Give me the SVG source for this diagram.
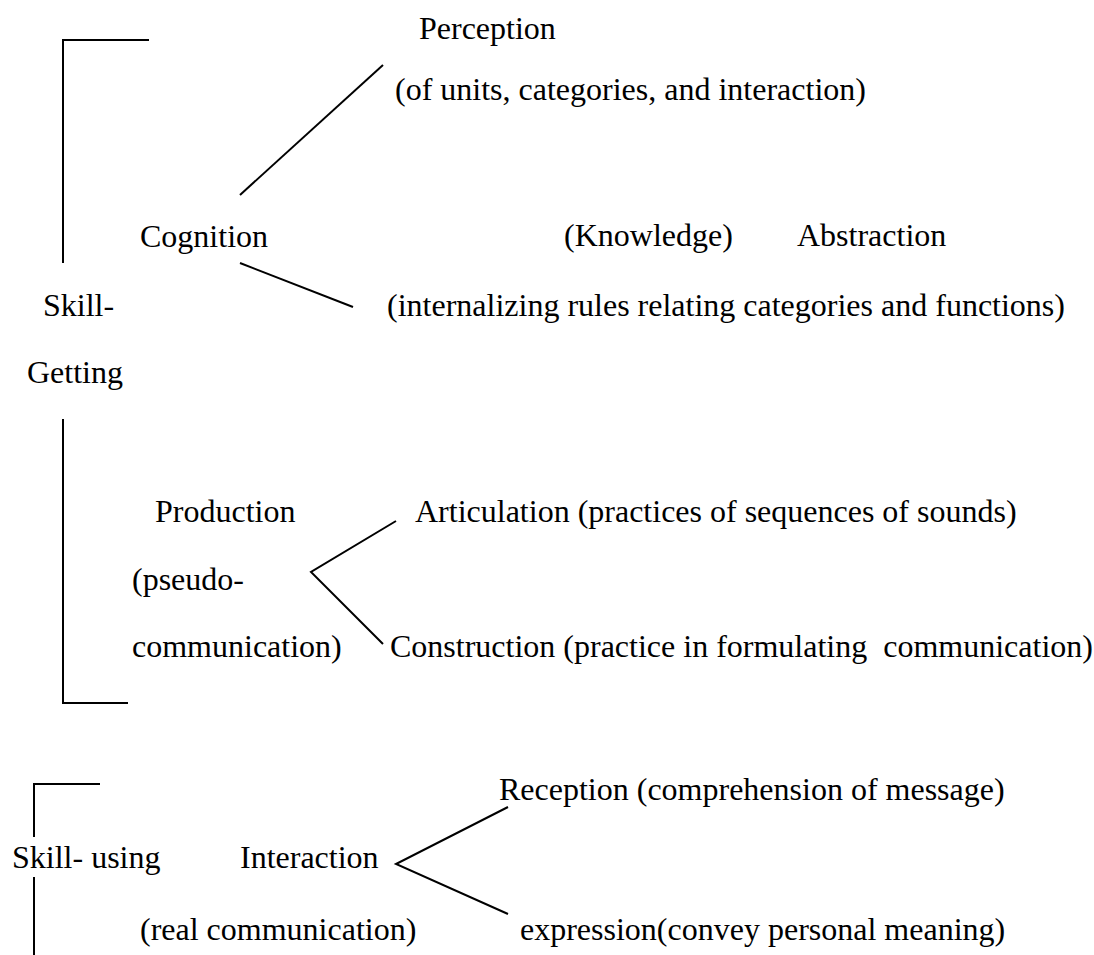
<svg xmlns="http://www.w3.org/2000/svg" width="1094" height="955" viewBox="0 0 1094 955">
  <style>
    text { font-family: "Liberation Serif", "Times New Roman", serif; font-size: 32px; fill: #000; white-space: pre; }
    .ln { fill: none; stroke: #000; stroke-width: 2; }
  </style>
  <rect width="1094" height="955" fill="#fff"/>

  <!-- connectors: brackets and branch lines -->
  <g id="connectors">
    <path class="ln" d="M149,40 H63 V263"/>
    <path class="ln" d="M240,195 L383,65"/>
    <path class="ln" d="M240,263 L353,307"/>
    <path class="ln" d="M63,419 V703 H128"/>
    <path class="ln" d="M396,521 L311,572 L383,644"/>
    <path class="ln" d="M100,784 H34 V837"/>
    <path class="ln" d="M34,877 V955"/>
    <path class="ln" d="M508,807 L396,864 L508,914"/>
  </g>

  <g id="skill-getting">
    <text x="43" y="316">Skill-</text>
    <text x="27" y="383">Getting</text>
  </g>

  <g id="cognition">
    <text x="140" y="247">Cognition</text>
  </g>

  <g id="perception">
    <text x="419" y="39">Perception</text>
    <text x="395" y="100">(of units, categories, and interaction)</text>
  </g>

  <g id="abstraction">
    <text x="564" y="246">(Knowledge)</text>
    <text x="797" y="246">Abstraction</text>
    <text x="387" y="316">(internalizing rules relating categories and functions)</text>
  </g>

  <g id="production">
    <text x="155" y="522">Production</text>
    <text x="132" y="590">(pseudo-</text>
    <text x="132" y="657">communication)</text>
  </g>

  <g id="articulation">
    <text x="415" y="522">Articulation (practices of sequences of sounds)</text>
  </g>

  <g id="construction">
    <text x="390" y="657">Construction (practice in formulating  communication)</text>
  </g>

  <g id="skill-using">
    <text x="12" y="868">Skill- using</text>
  </g>

  <g id="interaction">
    <text x="240" y="868">Interaction</text>
    <text x="140" y="940">(real communication)</text>
  </g>

  <g id="reception">
    <text x="499" y="800">Reception (comprehension of message)</text>
  </g>

  <g id="expression">
    <text x="520" y="940">expression(convey personal meaning)</text>
  </g>
</svg>
